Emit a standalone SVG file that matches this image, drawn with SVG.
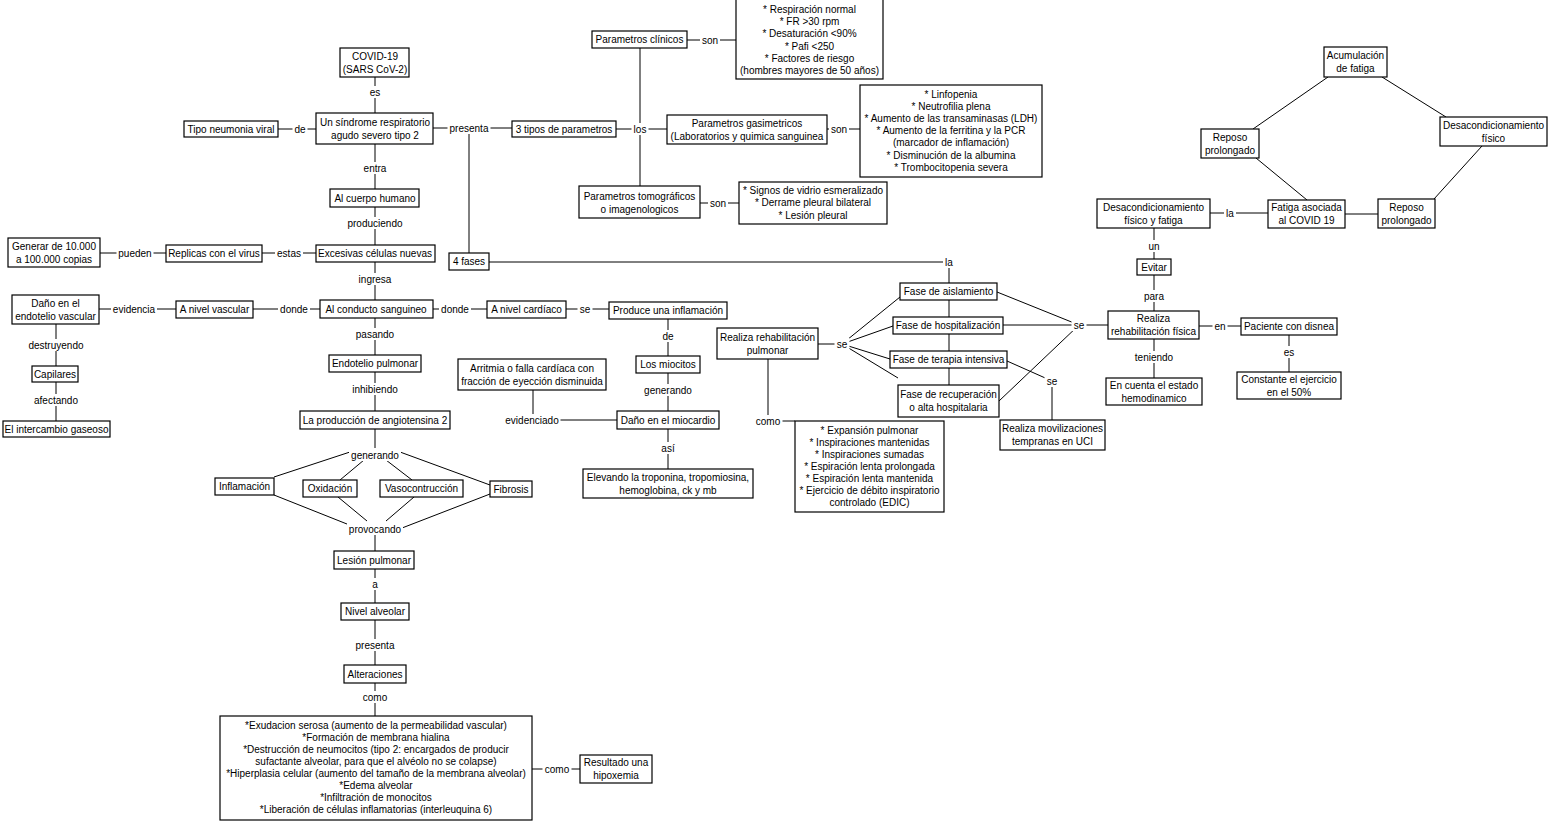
<svg xmlns="http://www.w3.org/2000/svg" width="1549" height="822" viewBox="0 0 1549 822">
<style>
.n rect{fill:#fff;stroke:#000;stroke-width:1.2}
text{font-family:"Liberation Sans",Arial,sans-serif;font-size:10px;fill:#000;text-anchor:middle;dominant-baseline:central}
#connectors line,#connectors polyline{stroke:#000;stroke-width:1;fill:none}
.bg{fill:#fff}
</style>
<rect width="1549" height="822" fill="#fff"/>
<g id="connectors">
<line x1="375" y1="77" x2="375" y2="113"/>
<line x1="278" y1="129" x2="316" y2="129"/>
<line x1="375" y1="144" x2="375" y2="189"/>
<line x1="375" y1="207" x2="375" y2="245"/>
<line x1="262" y1="253" x2="316" y2="253"/>
<line x1="100" y1="253" x2="166" y2="253"/>
<line x1="375" y1="262" x2="375" y2="300"/>
<line x1="253" y1="309" x2="320" y2="309"/>
<line x1="99" y1="309" x2="176" y2="309"/>
<line x1="56" y1="324" x2="56" y2="366"/>
<line x1="56" y1="382" x2="56" y2="421"/>
<line x1="375" y1="318" x2="375" y2="355"/>
<line x1="375" y1="372" x2="375" y2="411"/>
<line x1="375" y1="429" x2="375" y2="448"/>
<line x1="350" y1="452" x2="274" y2="477"/>
<line x1="364" y1="460" x2="340" y2="480"/>
<line x1="386" y1="460" x2="412" y2="480"/>
<line x1="400" y1="452" x2="490" y2="485"/>
<line x1="274" y1="495" x2="352" y2="526"/>
<line x1="338" y1="497" x2="367" y2="521"/>
<line x1="414" y1="497" x2="386" y2="521"/>
<line x1="490" y1="494" x2="402" y2="528"/>
<line x1="375" y1="535" x2="375" y2="551"/>
<line x1="375" y1="569" x2="375" y2="603"/>
<line x1="375" y1="620" x2="375" y2="665"/>
<line x1="375" y1="683" x2="375" y2="716"/>
<line x1="532" y1="769" x2="580" y2="769"/>
<line x1="433" y1="128" x2="512" y2="128"/>
<line x1="469" y1="134" x2="469" y2="253"/>
<line x1="616" y1="129" x2="667" y2="129"/>
<line x1="640" y1="48" x2="640" y2="186"/>
<line x1="687" y1="40" x2="736" y2="40"/>
<line x1="827" y1="129" x2="860" y2="129"/>
<line x1="700" y1="203" x2="739" y2="203"/>
<polyline points="489,262 949,262 949,283"/>
<line x1="949" y1="300" x2="949" y2="317"/>
<line x1="949" y1="334" x2="949" y2="351"/>
<line x1="949" y1="368" x2="949" y2="385"/>
<line x1="818" y1="344" x2="842" y2="344"/>
<line x1="842" y1="344" x2="900" y2="297"/>
<line x1="842" y1="344" x2="893" y2="326"/>
<line x1="842" y1="344" x2="890" y2="359"/>
<line x1="842" y1="344" x2="898" y2="378"/>
<line x1="997" y1="292" x2="1079" y2="325"/>
<line x1="1003" y1="325" x2="1108" y2="325"/>
<line x1="999" y1="401" x2="1079" y2="325"/>
<line x1="1007" y1="361" x2="1052" y2="381"/>
<line x1="1052" y1="381" x2="1052" y2="420"/>
<polyline points="768,359 768,421 795,421"/>
<line x1="1154" y1="275" x2="1154" y2="311"/>
<line x1="1154" y1="228" x2="1154" y2="259"/>
<line x1="1210" y1="213" x2="1268" y2="213"/>
<line x1="1345" y1="214" x2="1378" y2="214"/>
<line x1="1328" y1="77" x2="1253" y2="129"/>
<line x1="1382" y1="77" x2="1446" y2="117"/>
<line x1="1482" y1="146" x2="1434" y2="199"/>
<line x1="1256" y1="158" x2="1307" y2="200"/>
<line x1="1199" y1="326" x2="1241" y2="326"/>
<line x1="1289" y1="335" x2="1289" y2="372"/>
<line x1="1154" y1="339" x2="1154" y2="378"/>
<line x1="433" y1="309" x2="487" y2="309"/>
<line x1="566" y1="309" x2="609" y2="309"/>
<line x1="668" y1="319" x2="668" y2="356"/>
<line x1="668" y1="373" x2="668" y2="411"/>
<polyline points="533,390 533,420 617,420"/>
<line x1="668" y1="429" x2="668" y2="469"/>
<g id="labels">
<rect class="bg" x="367.5" y="86" width="15" height="12"/><text x="375" y="92">es</text>
<rect class="bg" x="292.5" y="123" width="15" height="12"/><text x="300" y="129">de</text>
<rect class="bg" x="361.5" y="162" width="27" height="12"/><text x="375" y="168">entra</text>
<rect class="bg" x="345.5" y="217" width="59" height="12"/><text x="375" y="223">produciendo</text>
<rect class="bg" x="275" y="247" width="28" height="12"/><text x="289" y="253">estas</text>
<rect class="bg" x="116.5" y="247" width="37" height="12"/><text x="135" y="253">pueden</text>
<rect class="bg" x="356.5" y="273" width="37" height="12"/><text x="375" y="279">ingresa</text>
<rect class="bg" x="278" y="303" width="32" height="12"/><text x="294" y="309">donde</text>
<rect class="bg" x="111" y="303" width="46" height="12"/><text x="134" y="309">evidencia</text>
<rect class="bg" x="26.5" y="339" width="59" height="12"/><text x="56" y="345">destruyendo</text>
<rect class="bg" x="32" y="394" width="48" height="12"/><text x="56" y="400">afectando</text>
<rect class="bg" x="354" y="328" width="42" height="12"/><text x="375" y="334">pasando</text>
<rect class="bg" x="350" y="383" width="50" height="12"/><text x="375" y="389">inhibiendo</text>
<rect class="bg" x="349" y="449" width="52" height="12"/><text x="375" y="455">generando</text>
<rect class="bg" x="347" y="523" width="56" height="12"/><text x="375" y="529">provocando</text>
<rect class="bg" x="370" y="578" width="10" height="12"/><text x="375" y="584">a</text>
<rect class="bg" x="353.5" y="639" width="43" height="12"/><text x="375" y="645">presenta</text>
<rect class="bg" x="360.5" y="691" width="29" height="12"/><text x="375" y="697">como</text>
<rect class="bg" x="542.5" y="763" width="29" height="12"/><text x="557" y="769">como</text>
<rect class="bg" x="447.5" y="122" width="43" height="12"/><text x="469" y="128">presenta</text>
<rect class="bg" x="631.5" y="123" width="17" height="12"/><text x="640" y="129">los</text>
<rect class="bg" x="700" y="34" width="20" height="12"/><text x="710" y="40">son</text>
<rect class="bg" x="829" y="123" width="20" height="12"/><text x="839" y="129">son</text>
<rect class="bg" x="708" y="197" width="20" height="12"/><text x="718" y="203">son</text>
<rect class="bg" x="943" y="256" width="12" height="12"/><text x="949" y="262">la</text>
<rect class="bg" x="834.5" y="338" width="15" height="12"/><text x="842" y="344">se</text>
<rect class="bg" x="1071.5" y="319" width="15" height="12"/><text x="1079" y="325">se</text>
<rect class="bg" x="1044.5" y="375" width="15" height="12"/><text x="1052" y="381">se</text>
<rect class="bg" x="753.5" y="415" width="29" height="12"/><text x="768" y="421">como</text>
<rect class="bg" x="1142" y="290" width="24" height="12"/><text x="1154" y="296">para</text>
<rect class="bg" x="1146.5" y="240" width="15" height="12"/><text x="1154" y="246">un</text>
<rect class="bg" x="1224" y="207" width="12" height="12"/><text x="1230" y="213">la</text>
<rect class="bg" x="1212.5" y="320" width="15" height="12"/><text x="1220" y="326">en</text>
<rect class="bg" x="1281.5" y="346" width="15" height="12"/><text x="1289" y="352">es</text>
<rect class="bg" x="1133" y="351" width="42" height="12"/><text x="1154" y="357">teniendo</text>
<rect class="bg" x="439" y="303" width="32" height="12"/><text x="455" y="309">donde</text>
<rect class="bg" x="577.5" y="303" width="15" height="12"/><text x="585" y="309">se</text>
<rect class="bg" x="660.5" y="330" width="15" height="12"/><text x="668" y="336">de</text>
<rect class="bg" x="643" y="384" width="50" height="12"/><text x="668" y="390">generando</text>
<rect class="bg" x="503.5" y="414" width="57" height="12"/><text x="532" y="420">evidenciado</text>
<rect class="bg" x="659.5" y="442" width="17" height="12"/><text x="668" y="448">así</text>
</g>
</g>
<g id="n1" class="n"><rect x="340" y="48" width="69" height="29"/><text x="375" y="56.5">COVID-19</text><text x="375" y="69">(SARS CoV-2)</text></g>
<g id="n2" class="n"><rect x="184" y="121" width="94" height="16"/><text x="231" y="129">Tipo neumonia viral</text></g>
<g id="n3" class="n"><rect x="316" y="113" width="117" height="31"/><text x="375" y="122">Un síndrome respiratorio</text><text x="375" y="135">agudo severo tipo 2</text></g>
<g id="n4" class="n"><rect x="330" y="189" width="89" height="18"/><text x="375" y="198">Al cuerpo humano</text></g>
<g id="n5" class="n"><rect x="316" y="245" width="119" height="17"/><text x="375" y="253.5">Excesivas células nuevas</text></g>
<g id="n6" class="n"><rect x="166" y="245" width="96" height="17"/><text x="214" y="253.5">Replicas con el virus</text></g>
<g id="n7" class="n"><rect x="8" y="238" width="92" height="29"/><text x="54" y="246.5">Generar de 10.000</text><text x="54" y="259">a 100.000 copias</text></g>
<g id="n8" class="n"><rect x="320" y="300" width="113" height="18"/><text x="376" y="309">Al conducto sanguineo</text></g>
<g id="n9" class="n"><rect x="176" y="301" width="77" height="17"/><text x="214.5" y="309.5">A nivel vascular</text></g>
<g id="n10" class="n"><rect x="12" y="295" width="87" height="29"/><text x="55.5" y="303.5">Daño en el</text><text x="55.5" y="316">endotelio vascular</text></g>
<g id="n11" class="n"><rect x="32" y="366" width="46" height="16"/><text x="55" y="374">Capilares</text></g>
<g id="n12" class="n"><rect x="3" y="421" width="107" height="16"/><text x="56.5" y="429">El intercambio gaseoso</text></g>
<g id="n13" class="n"><rect x="329" y="355" width="92" height="17"/><text x="375" y="363.5">Endotelio pulmonar</text></g>
<g id="n14" class="n"><rect x="300" y="411" width="150" height="18"/><text x="375" y="420">La producción de angiotensina 2</text></g>
<g id="n15" class="n"><rect x="215" y="478" width="59" height="17"/><text x="244.5" y="486.5">Inflamación</text></g>
<g id="n16" class="n"><rect x="303" y="480" width="54" height="17"/><text x="330" y="488.5">Oxidación</text></g>
<g id="n17" class="n"><rect x="380" y="480" width="83" height="17"/><text x="421.5" y="488.5">Vasocontrucción</text></g>
<g id="n18" class="n"><rect x="490" y="481" width="42" height="16"/><text x="511" y="489">Fibrosis</text></g>
<g id="n19" class="n"><rect x="334" y="551" width="80" height="18"/><text x="374" y="560">Lesión pulmonar</text></g>
<g id="n20" class="n"><rect x="341" y="603" width="68" height="17"/><text x="375" y="611.5">Nivel alveolar</text></g>
<g id="n21" class="n"><rect x="344" y="665" width="62" height="18"/><text x="375" y="674">Alteraciones</text></g>
<g id="n22" class="n"><rect x="220" y="716" width="312" height="104"/>
<text x="376" y="725">*Exudacion serosa (aumento de la permeabilidad vascular)</text>
<text x="376" y="737">*Formación de membrana hialina</text>
<text x="376" y="749">*Destrucción de neumocitos (tipo 2: encargados de producir</text>
<text x="376" y="761">sufactante alveolar, para que el alvéolo no se colapse)</text>
<text x="376" y="773">*Hiperplasia celular (aumento del tamaño de la membrana alveolar)</text>
<text x="376" y="785">*Edema alveolar</text>
<text x="376" y="797">*Infiltración de monocitos</text>
<text x="376" y="809">*Liberación de células inflamatorias (interleuquina 6)</text></g>
<g id="n23" class="n"><rect x="580" y="755" width="72" height="28"/><text x="616" y="762.5">Resultado una</text><text x="616" y="775.5">hipoxemia</text></g>
<g id="n24" class="n"><rect x="512" y="121" width="104" height="16"/><text x="564" y="129">3 tipos de parametros</text></g>
<g id="n25" class="n"><rect x="592" y="31" width="95" height="17"/><text x="639.5" y="39.5">Parametros clínicos</text></g>
<g id="n26" class="n"><rect x="736" y="-1" width="147" height="80"/>
<text x="809.5" y="9.5">* Respiración normal</text>
<text x="809.5" y="21.7">* FR &gt;30 rpm</text>
<text x="809.5" y="33.9">* Desaturación &lt;90%</text>
<text x="809.5" y="46.1">* Pafi &lt;250</text>
<text x="809.5" y="58.3">* Factores de riesgo</text>
<text x="809.5" y="70.5">(hombres mayores de 50 años)</text></g>
<g id="n27" class="n"><rect x="667" y="115" width="160" height="29"/><text x="747" y="123">Parametros gasimetricos</text><text x="747" y="136">(Laboratorios y quimica sanguinea</text></g>
<g id="n28" class="n"><rect x="860" y="85" width="182" height="92"/>
<text x="951" y="94.5">* Linfopenia</text>
<text x="951" y="106.6">* Neutrofilia plena</text>
<text x="951" y="118.7">* Aumento de las transaminasas (LDH)</text>
<text x="951" y="130.8">* Aumento de la ferritina y la PCR</text>
<text x="951" y="142.9">(marcador de inflamación)</text>
<text x="951" y="155">* Disminución de la albumina</text>
<text x="951" y="167.1">* Trombocitopenia severa</text></g>
<g id="n29" class="n"><rect x="579" y="186" width="121" height="32"/><text x="639.5" y="196">Parametros tomográficos</text><text x="639.5" y="209">o imagenologicos</text></g>
<g id="n30" class="n"><rect x="739" y="182" width="148" height="42"/><text x="813" y="190">* Signos de vidrio esmeralizado</text><text x="813" y="202.5">* Derrame pleural bilateral</text><text x="813" y="215">* Lesión pleural</text></g>
<g id="n31" class="n"><rect x="449" y="253" width="40" height="17"/><text x="469" y="261.5">4 fases</text></g>
<g id="n32" class="n"><rect x="900" y="283" width="97" height="17"/><text x="948.5" y="291.5">Fase de aislamiento</text></g>
<g id="n33" class="n"><rect x="893" y="317" width="110" height="17"/><text x="948" y="325.5">Fase de hospitalización</text></g>
<g id="n34" class="n"><rect x="890" y="351" width="117" height="17"/><text x="948.5" y="359.5">Fase de terapia intensiva</text></g>
<g id="n35" class="n"><rect x="898" y="385" width="101" height="32"/><text x="948.5" y="394.5">Fase de recuperación</text><text x="948.5" y="407.5">o alta hospitalaria</text></g>
<g id="n36" class="n"><rect x="1000" y="420" width="105" height="30"/><text x="1052.5" y="428.5">Realiza movilizaciones</text><text x="1052.5" y="441.5">tempranas en UCI</text></g>
<g id="n37" class="n"><rect x="717" y="328" width="101" height="31"/><text x="767.5" y="337">Realiza rehabilitación</text><text x="767.5" y="350">pulmonar</text></g>
<g id="n38" class="n"><rect x="795" y="421" width="149" height="91"/>
<text x="869.5" y="430">* Expansión pulmonar</text>
<text x="869.5" y="442">* Inspiraciones mantenidas</text>
<text x="869.5" y="454">* Inspiraciones sumadas</text>
<text x="869.5" y="466">* Espiración lenta prolongada</text>
<text x="869.5" y="478">* Espiración lenta mantenida</text>
<text x="869.5" y="490">* Ejercicio de débito inspiratorio</text>
<text x="869.5" y="502">controlado (EDIC)</text></g>
<g id="n39" class="n"><rect x="1108" y="311" width="91" height="28"/><text x="1153.5" y="318.5">Realiza</text><text x="1153.5" y="331.5">rehabilitación física</text></g>
<g id="n40" class="n"><rect x="1137" y="259" width="34" height="16"/><text x="1154" y="267">Evitar</text></g>
<g id="n41" class="n"><rect x="1097" y="199" width="113" height="29"/><text x="1153.5" y="207">Desacondicionamiento</text><text x="1153.5" y="220">físico y fatiga</text></g>
<g id="n42" class="n"><rect x="1268" y="200" width="77" height="28"/><text x="1306.5" y="207.5">Fatiga asociada</text><text x="1306.5" y="220.5">al COVID 19</text></g>
<g id="n43" class="n"><rect x="1378" y="199" width="57" height="29"/><text x="1406.5" y="207">Reposo</text><text x="1406.5" y="220">prolongado</text></g>
<g id="n44" class="n"><rect x="1201" y="129" width="58" height="29"/><text x="1230" y="137">Reposo</text><text x="1230" y="150">prolongado</text></g>
<g id="n45" class="n"><rect x="1324" y="47" width="63" height="30"/><text x="1355.5" y="55.5">Acumulación</text><text x="1355.5" y="68.5">de fatiga</text></g>
<g id="n46" class="n"><rect x="1440" y="117" width="107" height="29"/><text x="1493.5" y="125">Desacondicionamiento</text><text x="1493.5" y="138">físico</text></g>
<g id="n47" class="n"><rect x="1106" y="378" width="96" height="27"/><text x="1154" y="385">En cuenta el estado</text><text x="1154" y="398">hemodinamico</text></g>
<g id="n48" class="n"><rect x="1241" y="318" width="96" height="17"/><text x="1289" y="326.5">Paciente con disnea</text></g>
<g id="n49" class="n"><rect x="1237" y="372" width="104" height="27"/><text x="1289" y="379">Constante el ejercicio</text><text x="1289" y="392">en el 50%</text></g>
<g id="n50" class="n"><rect x="487" y="301" width="79" height="17"/><text x="526.5" y="309.5">A nivel cardíaco</text></g>
<g id="n51" class="n"><rect x="609" y="302" width="118" height="17"/><text x="668" y="310.5">Produce una inflamación</text></g>
<g id="n52" class="n"><rect x="636" y="356" width="64" height="17"/><text x="668" y="364.5">Los miocitos</text></g>
<g id="n53" class="n"><rect x="617" y="411" width="102" height="18"/><text x="668" y="420">Daño en el miocardio</text></g>
<g id="n54" class="n"><rect x="458" y="359" width="148" height="31"/><text x="532" y="368">Arritmia o falla cardíaca con</text><text x="532" y="381">fracción de eyección disminuida</text></g>
<g id="n55" class="n"><rect x="583" y="469" width="170" height="29"/><text x="668" y="477">Elevando la troponina, tropomiosina,</text><text x="668" y="490">hemoglobina, ck y mb</text></g>
</svg>
